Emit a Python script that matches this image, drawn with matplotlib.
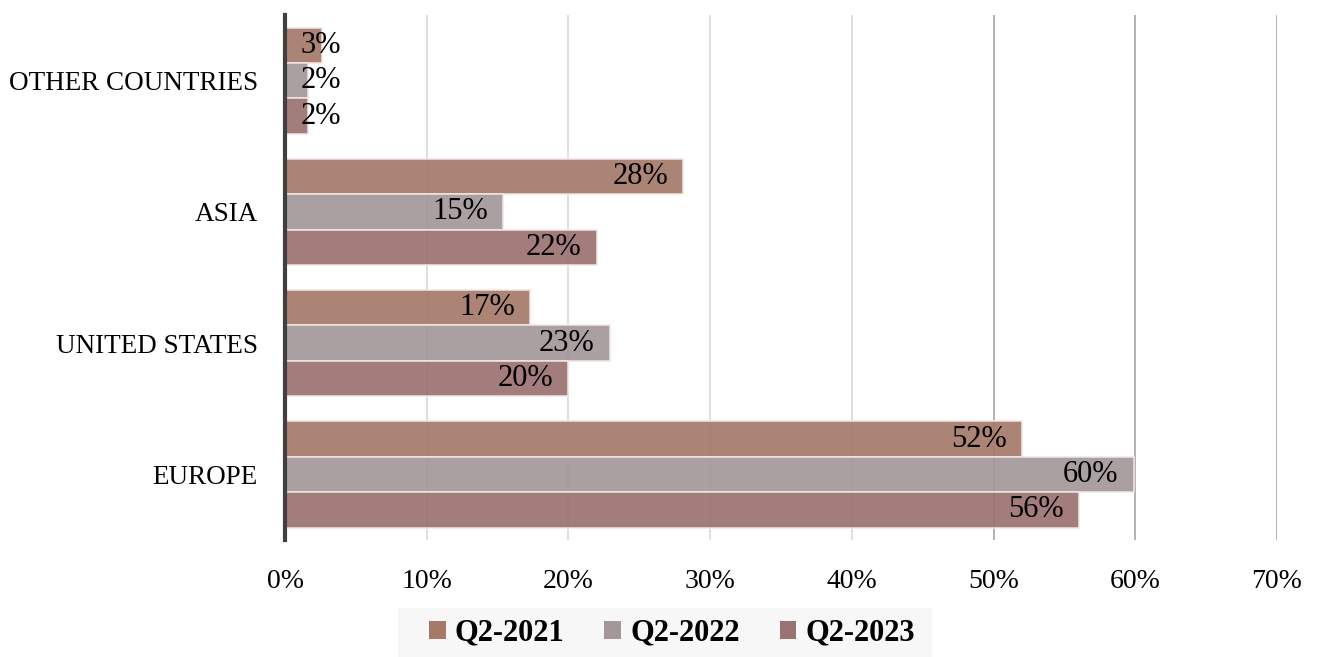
import numpy as np
import matplotlib.pyplot as plt
from matplotlib.patches import Patch, Rectangle

################ Data ################

regions = ['EUROPE', 'UNITED STATES', 'ASIA', 'OTHER COUNTRIES']
series  = ['Q2-2021', 'Q2-2022', 'Q2-2023']
q2_2021 = [52.0, 17.3, 28.1, 2.6]
q2_2022 = [59.9, 22.9, 15.4, 1.6]
q2_2023 = [56.0, 20.0, 22.0, 1.6]
xticks  = [0, 10, 20, 30, 40, 50, 60, 70]

colors = ['#a57a69', '#a39899', '#9a7271']

################ Figure ################

plt.rcParams['font.family'] = ['Liberation Serif', 'DejaVu Serif']

fig = plt.figure(figsize=(13.27, 6.57), dpi=100)
ax = fig.add_axes([0.2148, 0.178, 0.9623 - 0.2148, 0.977 - 0.178])

y = np.arange(len(regions))
h = 0.27
offsets = [h, 0, -h]

for vals, off, col in zip([q2_2021, q2_2022, q2_2023], offsets, colors):
    bars = ax.barh(y + off, vals, height=h, color=col, alpha=0.92,
                   edgecolor='#f2e6e4', linewidth=1.2, zorder=3)
    for b, v in zip(bars, vals):
        lab = '%d%%' % int(v + 0.5)
        yc = b.get_y() + b.get_height() / 2
        if v < 8:
            ax.annotate(lab, (0, yc), xytext=(11, 0), textcoords='offset points',
                        ha='left', va='center', fontsize=22, color='black', zorder=4)
        else:
            ax.annotate(lab, (v, yc), xytext=(-11, 0), textcoords='offset points',
                        ha='right', va='center', fontsize=22, color='black', zorder=4)

ax.set_xlim(0, 70)
ax.set_ylim(-0.5, 3.5)
ax.set_yticks(y)
ax.set_yticklabels(regions, fontsize=19.5)
ax.set_xticks(xticks)
ax.set_xticklabels(['%d%%' % t for t in xticks], fontsize=20)
ax.tick_params(axis='both', length=0)
ax.tick_params(axis='x', pad=21)
ax.tick_params(axis='y', pad=19.5)

ax.grid(axis='x', color='#d9d9d9', linewidth=1.2, zorder=0)
for t, gl in zip(xticks, ax.get_xgridlines()):
    if t >= 50:
        gl.set_color('#a6a6a6')
ax.set_axisbelow(True)

for s in ['top', 'right', 'bottom']:
    ax.spines[s].set_visible(False)
ax.spines['left'].set_color('#404040')
ax.spines['left'].set_linewidth(3)
ax.spines['left'].set_zorder(5)

################ Legend ################

# light grey band behind the legend
fig.patches.append(Rectangle((398 / 1327, 0), 534 / 1327, 49 / 657,
                             transform=fig.transFigure, facecolor='#f7f7f7',
                             edgecolor='none', zorder=0))

handles = [Patch(facecolor=c, edgecolor='none') for c in colors]
leg = fig.legend(handles, series, loc='center', bbox_to_anchor=(0.5064, 0.0365),
                 ncol=3, frameon=False, handlelength=0.55,
                 handleheight=0.55, handletextpad=0.3, columnspacing=1.3,
                 prop={'weight': 'bold', 'size': 22}, borderpad=0.4)

plt.savefig('out.png', dpi=100)
